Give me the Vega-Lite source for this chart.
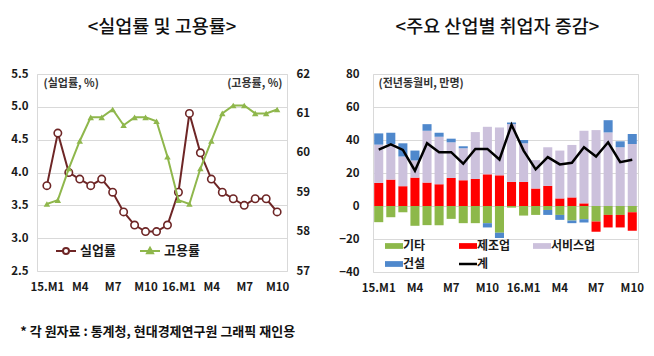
{
  "$schema": "https://vega.github.io/schema/vega-lite/v6.json",
  "padding": {"left": 10, "right": 16, "top": 17, "bottom": 8},
  "config": {
    "font": "Noto Sans CJK KR",
    "view": {"stroke": "#d9d9d9", "strokeWidth": 1},
    "axis": {
      "labelFont": "Noto Sans CJK KR",
      "labelFontSize": 11.5,
      "labelFontWeight": "bold",
      "labelColor": "#1a1a1a",
      "domain": false,
      "ticks": false,
      "gridColor": "#d9d9d9",
      "titleFont": "Noto Sans CJK KR",
      "titleFontSize": 11,
      "titleFontWeight": "bold",
      "titleColor": "#333333"
    },
    "legend": {"labelFont": "Noto Sans CJK KR", "labelColor": "#1a1a1a"},
    "title": {"font": "Noto Sans CJK KR", "color": "#111111"}
  },
  "datasets": {
    "rates": [
      {"month": "15.M1", "unemp": 3.8, "emp": 58.7},
      {"month": "15.M2", "unemp": 4.6, "emp": 58.8},
      {"month": "15.M3", "unemp": 4.0, "emp": 59.6},
      {"month": "15.M4", "unemp": 3.9, "emp": 60.3},
      {"month": "15.M5", "unemp": 3.8, "emp": 60.9},
      {"month": "15.M6", "unemp": 3.9, "emp": 60.9},
      {"month": "15.M7", "unemp": 3.7, "emp": 61.1},
      {"month": "15.M8", "unemp": 3.4, "emp": 60.7},
      {"month": "15.M9", "unemp": 3.2, "emp": 60.9},
      {"month": "15.M10", "unemp": 3.1, "emp": 60.9},
      {"month": "15.M11", "unemp": 3.1, "emp": 60.8},
      {"month": "15.M12", "unemp": 3.2, "emp": 59.9},
      {"month": "16.M1", "unemp": 3.7, "emp": 58.8},
      {"month": "16.M2", "unemp": 4.9, "emp": 58.7},
      {"month": "16.M3", "unemp": 4.3, "emp": 59.6},
      {"month": "16.M4", "unemp": 3.9, "emp": 60.3},
      {"month": "16.M5", "unemp": 3.7, "emp": 61.0},
      {"month": "16.M6", "unemp": 3.6, "emp": 61.2},
      {"month": "16.M7", "unemp": 3.5, "emp": 61.2},
      {"month": "16.M8", "unemp": 3.6, "emp": 61.0},
      {"month": "16.M9", "unemp": 3.6, "emp": 61.0},
      {"month": "16.M10", "unemp": 3.4, "emp": 61.1}
    ],
    "jobs": [
      {"month": "15.M1", "기타": -9.8, "제조업": 14, "서비스업": 23.2, "건설": 6.8, "계": 34.2},
      {"month": "15.M2", "기타": -6.8, "제조업": 16, "서비스업": 21.6, "건설": 6.8, "계": 37.4},
      {"month": "15.M3", "기타": -3.8, "제조업": 12, "서비스업": 18, "건설": 8, "계": 34},
      {"month": "15.M4", "기타": -12, "제조업": 17.2, "서비스업": 10.4, "건설": 6, "계": 21.4},
      {"month": "15.M5", "기타": -11.6, "제조업": 14.2, "서비스업": 31.4, "건설": 4, "계": 38},
      {"month": "15.M6", "기타": -11.6, "제조업": 13.2, "서비스업": 28.8, "건설": 2.4, "계": 32.6},
      {"month": "15.M7", "기타": -7.8, "제조업": 17, "서비스업": 21.6, "건설": 2.2, "계": 32.6},
      {"month": "15.M8", "기타": -10.4, "제조업": 15.6, "서비스업": 19.4, "건설": 1.2, "계": 25.6},
      {"month": "15.M9", "기타": -10.4, "제조업": 16.4, "서비스업": 28.4, "건설": 0, "계": 34.6},
      {"month": "15.M10", "기타": -10.4, "제조업": 19.2, "서비스업": 28.8, "건설": -2.6, "계": 34.6},
      {"month": "15.M11", "기타": -16.2, "제조업": 18.6, "서비스업": 29, "건설": -3.2, "계": 28.2},
      {"month": "15.M12", "기타": -1, "제조업": 14.6, "서비스업": 35, "건설": 1, "계": 49.2},
      {"month": "16.M1", "기타": -5.8, "제조업": 14.6, "서비스업": 23.4, "건설": 2, "계": 33.6},
      {"month": "16.M2", "기타": -5.4, "제조업": 10.6, "서비스업": 17.2, "건설": 0, "계": 22.2},
      {"month": "16.M3", "기타": -2.4, "제조업": 12.2, "서비스업": 23.4, "건설": -3, "계": 29.6},
      {"month": "16.M4", "기타": -5.4, "제조업": 4.6, "서비스업": 29, "건설": -3, "계": 25.2},
      {"month": "16.M5", "기타": -8.8, "제조업": 5.2, "서비스업": 31.8, "건설": -1.6, "계": 26.2},
      {"month": "16.M6", "기타": -8, "제조업": 1.6, "서비스업": 44, "건설": -2, "계": 35.6},
      {"month": "16.M7", "기타": -9.4, "제조업": -6.2, "서비스업": 46, "건설": 0, "계": 30},
      {"month": "16.M8", "기타": -5.4, "제조업": -7.6, "서비스업": 44.6, "건설": 7.4, "계": 38.6},
      {"month": "16.M9", "기타": -5.4, "제조업": -7.6, "서비스업": 35.6, "건설": 3.6, "계": 26.6},
      {"month": "16.M10", "기타": -3.8, "제조업": -11.2, "서비스업": 37.6, "건설": 6, "계": 28}
    ],
    "sectorOrder": [
      {"sector": "기타", "ord": 1},
      {"sector": "제조업", "ord": 2},
      {"sector": "서비스업", "ord": 3},
      {"sector": "건설", "ord": 4}
    ]
  },
  "title": {
    "text": "* 각 원자료 : 통계청, 현대경제연구원 그래픽 재인용",
    "orient": "bottom",
    "anchor": "start",
    "fontSize": 13,
    "fontWeight": "bold",
    "color": "#111111",
    "offset": 32,
    "dx": 10
  },
  "spacing": 27,
  "resolve": {"scale": {"color": "independent"}, "legend": {"color": "independent"}},
  "hconcat": [
    {
      "title": {"text": "<실업률 및 고용률>", "fontSize": 18.5, "fontWeight": 500, "offset": 32},
      "width": 250,
      "height": 197,
      "data": {"name": "rates"},
      "encoding": {
        "x": {
          "field": "month",
          "type": "ordinal",
          "sort": null,
          "scale": {"type": "point", "padding": 0.9},
          "axis": {
            "title": null,
            "labelAngle": 0,
            "labelPadding": 10,
            "labelOverlap": false,
            "grid": false,
            "labelExpr": "indexof(['15.M1','16.M1'], datum.value) >= 0 ? datum.value : (indexof(['15.M4','15.M7','15.M10','16.M4','16.M7','16.M10'], datum.value) >= 0 ? slice(datum.value, 3) : '')"
          }
        }
      },
      "layer": [
        {
          "encoding": {
            "y": {
              "field": "unemp",
              "type": "quantitative",
              "scale": {"domain": [2.5, 5.5], "nice": false, "zero": false},
              "axis": {
                "orient": "left",
                "values": [2.5, 3.0, 3.5, 4.0, 4.5, 5.0, 5.5],
                "format": ".1f",
                "grid": true,
                "labelOverlap": false,
                "labelPadding": 9,
                "title": "(실업률, %)",
                "titleAngle": 0,
                "titleAlign": "left",
                "titleBaseline": "middle",
                "titleX": 6,
                "titleY": 9
              }
            }
          },
          "layer": [
            {
              "mark": {"type": "line", "strokeWidth": 2},
              "encoding": {
                "color": {
                  "datum": "실업률",
                  "scale": {"domain": ["실업률", "고용률"], "range": ["#6e2626", "#8fb74c"]},
                  "legend": {
                    "title": null,
                    "orient": "none",
                    "legendX": 18,
                    "legendY": 166,
                    "direction": "horizontal",
                    "symbolSize": 400,
                    "labelFontSize": 13,
                    "labelFontWeight": "bold",
                    "labelOffset": 3,
                    "columnPadding": 20,
                    "encode": {
                      "symbols": {
                        "update": {
                          "shape": {"signal": "datum.value === '실업률' ? 'M-1,0H-0.3M0.3,0H1M-0.3,0A0.3,0.3 0 1,1 0.3,0A0.3,0.3 0 1,1 -0.3,0' : 'M-1,0H1M0,-0.32L0.3,0.22L-0.3,0.22Z'"},
                          "fill": {"signal": "datum.value === '실업률' ? 'white' : '#8fb74c'"},
                          "stroke": {"signal": "datum.value === '실업률' ? '#6e2626' : '#8fb74c'"},
                          "strokeWidth": {"value": 2},
                          "opacity": {"value": 1},
                          "fillOpacity": {"value": 1}
                        }
                      }
                    }
                  }
                }
              }
            },
            {
              "mark": {"type": "point", "shape": "circle", "filled": true, "fill": "white", "stroke": "#6e2626", "strokeWidth": 1.6, "size": 55, "opacity": 1}
            }
          ]
        },
        {
          "encoding": {
            "y": {
              "field": "emp",
              "type": "quantitative",
              "scale": {"domain": [57, 62], "nice": false, "zero": false},
              "axis": {
                "orient": "right",
                "values": [57, 58, 59, 60, 61, 62],
                "format": "d",
                "grid": false,
                "labelOverlap": false,
                "labelPadding": 9,
                "title": "(고용률, %)",
                "titleAngle": 0,
                "titleAlign": "right",
                "titleBaseline": "middle",
                "titleX": -5,
                "titleY": 9
              }
            }
          },
          "layer": [
            {
              "mark": {"type": "line", "strokeWidth": 2},
              "encoding": {"color": {"datum": "고용률"}}
            },
            {
              "mark": {"type": "point", "shape": "triangle-up", "filled": true, "color": "#8fb74c", "size": 42, "opacity": 1}
            }
          ]
        }
      ],
      "resolve": {"scale": {"y": "independent"}}
    },
    {
      "title": {"text": "<주요 산업별 취업자 증감>", "fontSize": 18.5, "fontWeight": 500, "offset": 32, "dx": -8},
      "width": 265,
      "height": 198,
      "data": {"name": "jobs"},
      "encoding": {
        "x": {
          "field": "month",
          "type": "ordinal",
          "sort": null,
          "scale": {"type": "band", "paddingInner": 0.25, "paddingOuter": 0.1},
          "axis": {
            "title": null,
            "labelAngle": 0,
            "labelPadding": 10,
            "labelOverlap": false,
            "grid": false,
            "labelExpr": "indexof(['15.M1','16.M1'], datum.value) >= 0 ? datum.value : (indexof(['15.M4','15.M7','15.M10','16.M4','16.M7','16.M10'], datum.value) >= 0 ? slice(datum.value, 3) : '')"
          }
        }
      },
      "layer": [
        {
          "transform": [
            {"fold": ["기타", "제조업", "서비스업", "건설"], "as": ["sector", "value"]},
            {"lookup": "sector", "from": {"data": {"name": "sectorOrder"}, "key": "sector", "fields": ["ord"]}}
          ],
          "mark": {"type": "bar"},
          "encoding": {
            "y": {
              "field": "value",
              "type": "quantitative",
              "stack": "zero",
              "scale": {"domain": [-40, 80], "nice": false, "zero": false},
              "axis": {
                "values": [-40, -20, 0, 20, 40, 60, 80],
                "grid": true,
                "labelOverlap": false,
                "labelPadding": 14,
                "title": "(전년동월비, 만명)",
                "titleAngle": 0,
                "titleAlign": "left",
                "titleBaseline": "middle",
                "titleX": 5,
                "titleY": 9
              }
            },
            "color": {
              "field": "sector",
              "type": "nominal",
              "scale": {
                "domain": ["기타", "제조업", "서비스업", "건설", "계"],
                "range": ["#8db84a", "#ff0000", "#ccc1dc", "#4f88cc", "#000000"]
              },
              "legend": {
                "title": null,
                "orient": "none",
                "direction": "horizontal",
                "legendX": 15,
                "legendY": 166,
                "columns": 3,
                "gridAlign": "all",
                "columnPadding": 6,
                "rowPadding": 6,
                "symbolSize": 324,
                "labelFontSize": 12,
                "labelFontWeight": "bold",
                "labelOffset": 3,
                "encode": {
                  "symbols": {
                    "update": {
                      "shape": {"signal": "datum.value === '계' ? 'stroke' : 'M-1,-0.32H1V0.32H-1Z'"},
                      "strokeWidth": {"signal": "datum.value === '계' ? 2.5 : 0"},
                      "stroke": {"signal": "datum.value === '계' ? '#000000' : 'transparent'"},
                      "opacity": {"value": 1},
                      "fillOpacity": {"value": 1}
                    }
                  }
                }
              }
            },
            "order": {"field": "ord", "type": "quantitative"}
          }
        },
        {
          "mark": {"type": "line", "strokeWidth": 2.5},
          "encoding": {
            "y": {
              "field": "계",
              "type": "quantitative",
              "scale": {"domain": [-40, 80], "nice": false, "zero": false},
              "axis": {
                "values": [-40, -20, 0, 20, 40, 60, 80],
                "grid": true,
                "labelOverlap": false,
                "labelPadding": 14,
                "title": "(전년동월비, 만명)",
                "titleAngle": 0,
                "titleAlign": "left",
                "titleBaseline": "middle",
                "titleX": 5,
                "titleY": 9
              }
            },
            "color": {"datum": "계"}
          }
        }
      ]
    }
  ]
}
